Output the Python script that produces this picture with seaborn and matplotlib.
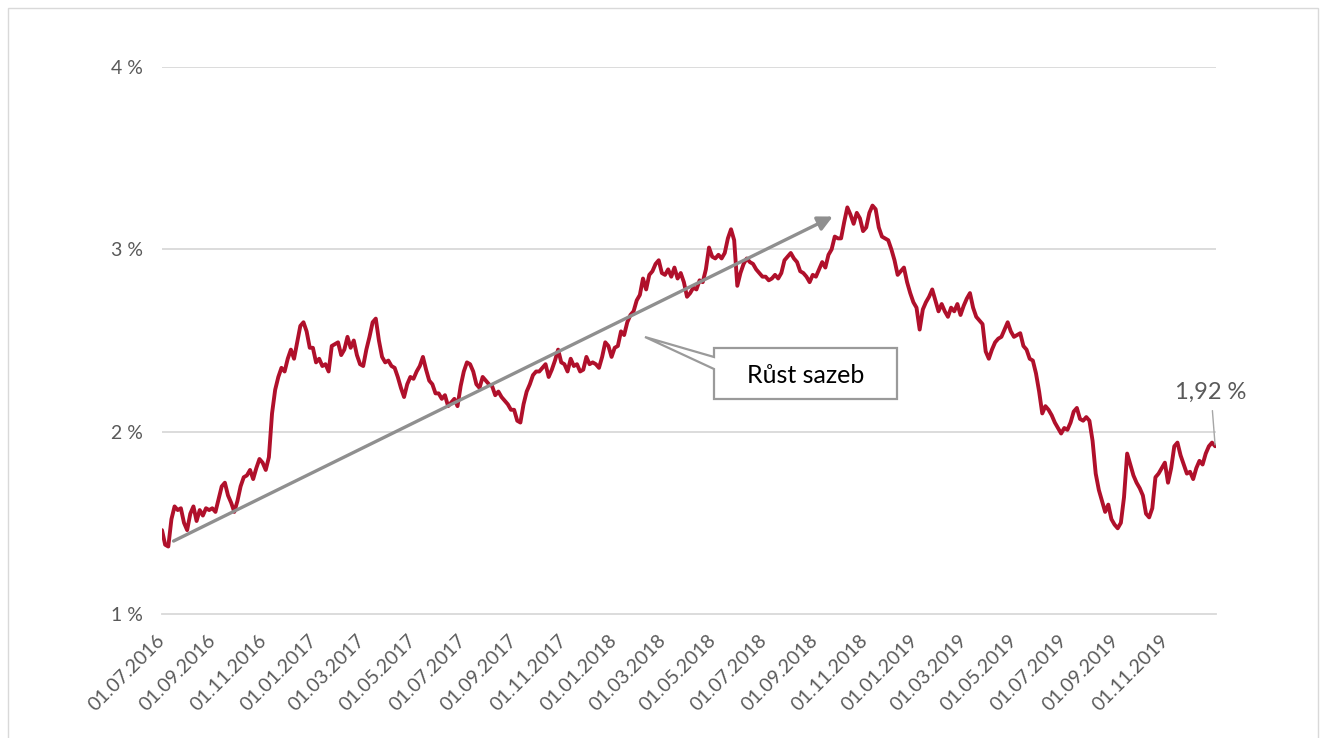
import matplotlib
matplotlib.use("Agg")
import matplotlib.pyplot as plt
from matplotlib.patches import Polygon, Rectangle
import pandas as pd
import seaborn as sns

# 10-year yield, about eight readings per month (Jul 2016 - Dec 2019)
yield_2016 = [
    1.46, 1.38, 1.37, 1.52, 1.59, 1.57, 1.58, 1.50,
    1.46, 1.55, 1.59, 1.51, 1.57, 1.54, 1.58, 1.57,
    1.58, 1.56, 1.63, 1.70, 1.72, 1.65, 1.61, 1.56,
    1.62, 1.70, 1.75, 1.76, 1.79, 1.74, 1.80, 1.85,
    1.83, 1.79, 1.86, 2.10, 2.23, 2.30, 2.35, 2.33,
    2.40, 2.45, 2.40, 2.49, 2.58, 2.60, 2.55, 2.46,
]
yield_2017 = [
    2.46, 2.38, 2.40, 2.36, 2.37, 2.33, 2.47, 2.48,
    2.49, 2.42, 2.45, 2.52, 2.46, 2.50, 2.42, 2.37,
    2.36, 2.45, 2.52, 2.60, 2.62, 2.50, 2.41, 2.38,
    2.39, 2.36, 2.35, 2.30, 2.24, 2.19, 2.26, 2.30,
    2.29, 2.33, 2.36, 2.41, 2.34, 2.28, 2.26, 2.21,
    2.21, 2.18, 2.20, 2.14, 2.16, 2.18, 2.14, 2.25,
    2.33, 2.38, 2.37, 2.33, 2.26, 2.24, 2.30, 2.28,
    2.26, 2.25, 2.20, 2.22, 2.19, 2.17, 2.15, 2.12,
    2.12, 2.06, 2.05, 2.15, 2.22, 2.26, 2.31, 2.33,
    2.33, 2.35, 2.37, 2.30, 2.34, 2.39, 2.45, 2.38,
    2.37, 2.33, 2.40, 2.36, 2.37, 2.33, 2.34, 2.41,
    2.37, 2.38, 2.37, 2.35, 2.41, 2.49, 2.47, 2.41,
]
yield_2018 = [
    2.46, 2.47, 2.55, 2.53, 2.60, 2.64, 2.66, 2.72,
    2.75, 2.84, 2.78, 2.86, 2.88, 2.92, 2.94, 2.87,
    2.86, 2.89, 2.85, 2.90, 2.84, 2.87, 2.82, 2.74,
    2.76, 2.79, 2.78, 2.83, 2.82, 2.89, 3.01, 2.96,
    2.95, 2.97, 2.95, 2.98, 3.06, 3.11, 3.05, 2.80,
    2.87, 2.92, 2.95, 2.93, 2.92, 2.89, 2.87, 2.85,
    2.85, 2.83, 2.84, 2.86, 2.84, 2.87, 2.94, 2.96,
    2.98, 2.95, 2.93, 2.88, 2.87, 2.85, 2.82, 2.86,
    2.85, 2.89, 2.93, 2.90, 2.97, 3.00, 3.07, 3.06,
    3.06, 3.15, 3.23, 3.19, 3.14, 3.20, 3.17, 3.10,
    3.12, 3.20, 3.24, 3.22, 3.12, 3.07, 3.06, 3.05,
    3.00, 2.94, 2.86, 2.88, 2.90, 2.82, 2.76, 2.71,
]
yield_2019 = [
    2.68, 2.56, 2.67, 2.71, 2.74, 2.78, 2.72, 2.66,
    2.70, 2.66, 2.63, 2.68, 2.66, 2.70, 2.64, 2.69,
    2.73, 2.76, 2.68, 2.63, 2.61, 2.59, 2.44, 2.40,
    2.45, 2.49, 2.51, 2.52, 2.56, 2.60, 2.55, 2.52,
    2.53, 2.54, 2.47, 2.45, 2.40, 2.39, 2.32, 2.22,
    2.10, 2.14, 2.12, 2.09, 2.05, 2.02, 1.99, 2.02,
    2.01, 2.05, 2.11, 2.13, 2.07, 2.06, 2.08, 2.06,
    1.95, 1.77, 1.68, 1.62, 1.56, 1.60, 1.52, 1.49,
    1.47, 1.50, 1.64, 1.88, 1.82, 1.76, 1.72, 1.69,
    1.65, 1.55, 1.53, 1.58, 1.75, 1.77, 1.80, 1.83,
    1.72, 1.80, 1.92, 1.94, 1.87, 1.82, 1.77, 1.78,
    1.74, 1.80, 1.84, 1.82, 1.88, 1.92, 1.94, 1.92,
]

start_date = "2016-07-01"
end_date = "2019-12-31"
axis_end = "2020-01-01"

y_ticks = [1, 2, 3, 4]
y_tick_labels = ["1 %", "2 %", "3 %", "4 %"]

trend_start = ("2016-07-15", 1.40)
trend_end = ("2018-09-23", 3.18)
box_label = "Růst sazeb"

values = yield_2016 + yield_2017 + yield_2018 + yield_2019
dates = pd.date_range(start_date, end_date, periods=len(values))
df = pd.DataFrame({"date": dates, "yield": values})

W, H = 1325, 738
sns.set_style("white")
plt.rcParams["font.family"] = ["Lato", "DejaVu Sans"]

fig = plt.figure(figsize=(W / 100, H / 100), dpi=100)
ax = fig.add_axes([162 / W, 1 - 614 / H, (1216 - 162) / W, (614 - 67) / H])

grid_c = "#d9d9d9"
text_c = "#595959"
line_c = "#b0102b"
grey_c = "#8f8f8f"

sns.lineplot(data=df, x="date", y="yield", ax=ax, color=line_c, lw=2.8,
             zorder=3)

ax.set_xlim(pd.Timestamp(start_date), pd.Timestamp(axis_end))
ax.set_ylim(1, 4)
ax.set_xlabel("")
ax.set_ylabel("")

# horizontal grid
ax.set_yticks(y_ticks)
ax.set_yticklabels(y_tick_labels)
for v in y_ticks[1:]:
    ax.axhline(v, color=grid_c, lw=1.3, zorder=1)
ax.grid(False)

# two-month date ticks, the last one unlabeled
x_ticks = pd.date_range(start_date, axis_end, freq="2MS")
ax.set_xticks(x_ticks)
ax.set_xticklabels([d.strftime("%d.%m.%Y") if i < len(x_ticks) - 1 else ""
                    for i, d in enumerate(x_ticks)])
for lab in ax.get_xticklabels():
    lab.set_rotation(45)
    lab.set_ha("right")
    lab.set_va("center")
    lab.set_rotation_mode("anchor")

ax.tick_params(axis="x", length=5, width=1.3, color=grid_c, colors=text_c,
               labelsize=14, pad=12, direction="out")
ax.tick_params(axis="y", length=0, colors=text_c, labelsize=14, pad=14)
for lab in ax.get_xticklabels():
    lab.set_color(text_c)

for side in ["top", "right", "left"]:
    ax.spines[side].set_visible(False)
ax.spines["bottom"].set_color(grid_c)
ax.spines["bottom"].set_linewidth(1.3)
ax.spines["bottom"].set_zorder(1)

# trend arrow
ax.annotate("", xy=(pd.Timestamp(trend_end[0]), trend_end[1]),
            xytext=(pd.Timestamp(trend_start[0]), trend_start[1]),
            arrowprops=dict(arrowstyle="-|>", color=grey_c, lw=2.4,
                            mutation_scale=22, shrinkA=0, shrinkB=0),
            zorder=4)

# end-of-series label
last_label = f"{values[-1]:.2f} %".replace(".", ",")
ax.annotate(last_label, xy=(dates[-1], values[-1]), xytext=(-3, 31),
            textcoords="offset points", ha="center", va="bottom",
            fontsize=17, color=text_c,
            arrowprops=dict(arrowstyle="-", color="#a6a6a6", lw=1,
                            shrinkA=3, shrinkB=1))


def px(x, y):
    return (x / W, 1 - y / H)


# callout box with wedge pointer
callout = Polygon([px(714, 348), px(897, 348), px(897, 399), px(714, 399),
                   px(714, 369), px(645, 337), px(714, 357)],
                  closed=True, transform=fig.transFigure, facecolor="white",
                  edgecolor="#9a9a9a", lw=1.6, zorder=5)
fig.patches.append(callout)
fig.text(*px(806, 375), box_label, ha="center", va="center", fontsize=18,
         color="black", zorder=6)

# outer chart frame
frame = Rectangle(px(8, 760), (1318 - 8) / W, (760 - 8) / H,
                  transform=fig.transFigure, fill=False, edgecolor=grid_c,
                  lw=1, zorder=0)
fig.patches.append(frame)

fig.savefig("out.png", dpi=100)
